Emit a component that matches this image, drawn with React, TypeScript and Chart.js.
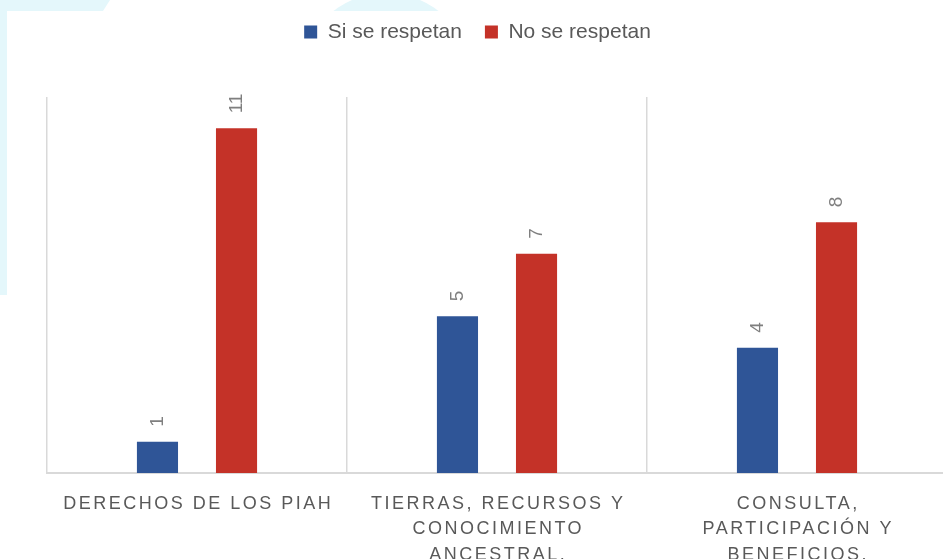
import React, { useEffect, useRef } from "react";
import { Chart, registerables } from "chart.js";

Chart.register(...registerables);

const categories: string[][] = [
  ["DERECHOS DE LOS PIAH"],
  ["TIERRAS, RECURSOS Y", "CONOCIMIENTO", "ANCESTRAL."],
  ["CONSULTA,", "PARTICIPACIÓN Y", "BENEFICIOS."],
];
const seriesNames = ["Si se respetan", "No se respetan"];
const siSeRespetan = [1, 5, 4];
const noSeRespetan = [11, 7, 8];
const seriesColors = ["#2f5597", "#c43228"];
const yMax = 12;

const FONT = "'Liberation Sans', Arial, sans-serif";

const dataLabelPlugin = {
  id: "rotatedDataLabels",
  afterDatasetsDraw(chart: any) {
    const ctx = chart.ctx;
    ctx.save();
    ctx.font = `19px ${FONT}`;
    ctx.fillStyle = "#7f7f7f";
    ctx.textAlign = "left";
    ctx.textBaseline = "middle";
    chart.data.datasets.forEach((ds: any, di: number) => {
      const meta = chart.getDatasetMeta(di);
      meta.data.forEach((bar: any, i: number) => {
        ctx.save();
        ctx.translate(bar.x, bar.y - 15);
        ctx.rotate(-Math.PI / 2);
        ctx.fillText(String(ds.data[i]), 0, 0);
        ctx.restore();
      });
    });
    ctx.restore();
  },
};

const xLabelPlugin = {
  id: "spacedXLabels",
  afterDraw(chart: any) {
    const ctx = chart.ctx;
    const xs = chart.scales.x;
    const spacing = 2.5;
    ctx.save();
    ctx.font = `18px ${FONT}`;
    ctx.fillStyle = "#595959";
    ctx.textAlign = "center";
    ctx.textBaseline = "middle";
    (ctx as any).letterSpacing = `${spacing}px`;
    categories.forEach((lines, i) => {
      const x = xs.getPixelForValue(i) + spacing / 2;
      lines.forEach((line, li) => {
        ctx.fillText(line, x, chart.chartArea.bottom + 31 + li * 25.5);
      });
    });
    ctx.restore();
  },
};

export default function App() {
  const canvasRef = useRef<HTMLCanvasElement | null>(null);

  useEffect(() => {
    if (!canvasRef.current) return;
    const chart = new Chart(canvasRef.current, {
      type: "bar",
      data: {
        labels: categories.map((c) => c.join(" ")),
        datasets: [
          {
            label: seriesNames[0],
            data: siSeRespetan,
            backgroundColor: seriesColors[0],
            categoryPercentage: 0.527,
            barPercentage: 0.52,
          },
          {
            label: seriesNames[1],
            data: noSeRespetan,
            backgroundColor: seriesColors[1],
            categoryPercentage: 0.527,
            barPercentage: 0.52,
          },
        ],
      },
      options: {
        animation: false,
        responsive: false,
        maintainAspectRatio: false,
        layout: { padding: { top: -1.5, left: 8, right: 3, bottom: 0 } },
        plugins: {
          legend: {
            display: true,
            position: "top",
            labels: {
              font: { size: 21, family: FONT },
              color: "#595959",
              boxWidth: 13,
              boxHeight: 13,
              padding: 23,
            },
          },
          subtitle: {
            display: true,
            text: "",
            weight: 500,
            font: { size: 10, lineHeight: 1 },
            padding: { top: 0, bottom: 34.5 },
          },
          tooltip: { enabled: false },
        },
        scales: {
          x: {
            offset: true,
            grid: {
              display: true,
              offset: true,
              color: "#d9d9d9",
              lineWidth: 1.5,
              drawTicks: false,
            },
            border: { display: true, color: "#d9d9d9", width: 2 },
            ticks: { display: false },
            afterFit: (scale: any) => {
              scale.height = 86;
            },
          },
          y: {
            display: true,
            min: 0,
            max: yMax,
            grid: { display: false },
            border: { display: false },
            ticks: { display: false },
            afterFit: (scale: any) => {
              scale.width = 39;
            },
          },
        },
      },
      plugins: [dataLabelPlugin, xLabelPlugin],
    });
    return () => chart.destroy();
  }, []);

  const cyan = "#e4f7fb";
  return (
    <div
      style={{
        position: "fixed",
        left: 0,
        top: 0,
        width: 943,
        height: 559,
        overflow: "hidden",
        background: "#ffffff",
      }}
    >
      <div style={{ position: "absolute", left: 0, top: 0, width: 7, height: 295, background: cyan }} />
      <div
        style={{
          position: "absolute",
          left: 0,
          top: 0,
          width: 110,
          height: 11,
          background: cyan,
          clipPath: "polygon(0 0, 110px 0, 103px 11px, 0 11px)",
        }}
      />
      <div
        style={{
          position: "absolute",
          left: 386 - 86,
          top: 79 - 86,
          width: 172,
          height: 172,
          borderRadius: "50%",
          background: cyan,
        }}
      />
      <div style={{ position: "absolute", left: 7, top: 11, width: 936, height: 548, background: "#ffffff" }} />
      <canvas
        ref={canvasRef}
        width={950}
        height={559}
        style={{ position: "absolute", left: 0, top: 0, width: 950, height: 559 }}
      />
    </div>
  );
}
